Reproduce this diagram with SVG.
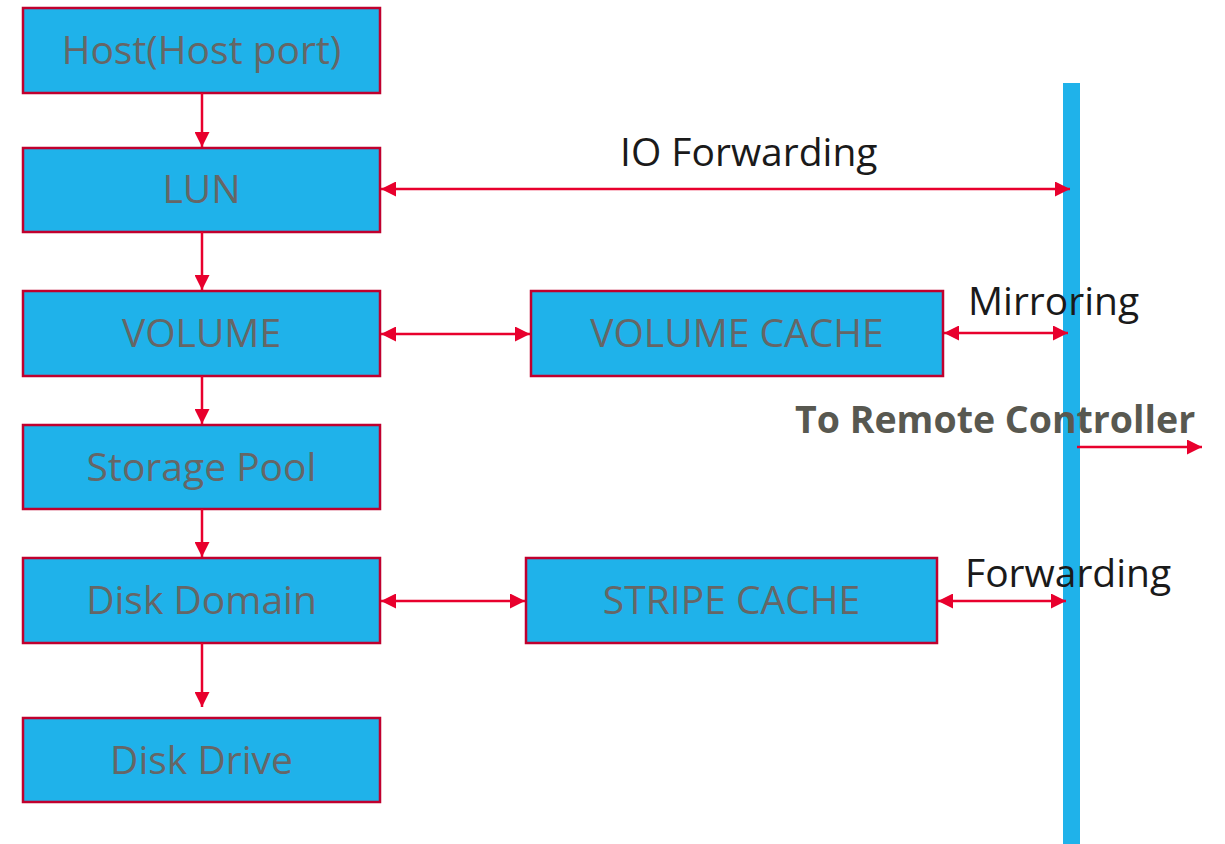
<svg xmlns="http://www.w3.org/2000/svg" width="1225" height="844" viewBox="0 0 1225 844">
<style>
.box{fill:#1FB2EA;stroke:#C0002E;stroke-width:2.5}
.bt{font-family:"Open Sans","Noto Sans",sans-serif;font-size:39px;fill:#666666;text-anchor:middle}
.lbl{font-family:"Open Sans","Noto Sans",sans-serif;font-size:39px;fill:#1a1a1a}
.ln{stroke:#E8002D;stroke-width:2.5;fill:none}
</style>
<defs>
<marker id="ah" viewBox="0 0 10 10" refX="10" refY="5" markerWidth="6" markerHeight="6" orient="auto-start-reverse" markerUnits="strokeWidth">
<path d="M0,0 L10,5 L0,10 Z" fill="#E8002D"/>
</marker>
</defs>
<rect x="1063" y="83" width="17" height="761" fill="#1FB2EA"/>
<g id="host"><rect class="box" x="23" y="8" width="357" height="85"/><text class="bt" x="201.5" y="64">Host(Host port)</text></g>
<g id="lun"><rect class="box" x="23" y="148" width="357" height="84"/><text class="bt" x="201.5" y="203">LUN</text></g>
<g id="volume"><rect class="box" x="23" y="291" width="357" height="85"/><text class="bt" x="201.5" y="347">VOLUME</text></g>
<g id="pool"><rect class="box" x="23" y="425" width="357" height="84"/><text class="bt" x="201.5" y="481">Storage Pool</text></g>
<g id="domain"><rect class="box" x="23" y="558" width="357" height="85"/><text class="bt" x="201.5" y="614">Disk Domain</text></g>
<g id="drive"><rect class="box" x="23" y="718" width="357" height="84"/><text class="bt" x="201.5" y="774">Disk Drive</text></g>
<g id="vcache"><rect class="box" x="531" y="291" width="412" height="85"/><text class="bt" x="737" y="347">VOLUME CACHE</text></g>
<g id="scache"><rect class="box" x="526" y="558" width="411" height="85"/><text class="bt" x="731.5" y="614">STRIPE CACHE</text></g>
<g id="connectors">
<line class="ln" x1="202" y1="93" x2="202" y2="147" marker-end="url(#ah)"/>
<line class="ln" x1="202" y1="232" x2="202" y2="290" marker-end="url(#ah)"/>
<line class="ln" x1="202" y1="376" x2="202" y2="424" marker-end="url(#ah)"/>
<line class="ln" x1="202" y1="509" x2="202" y2="557" marker-end="url(#ah)"/>
<line class="ln" x1="202" y1="643" x2="202" y2="707" marker-end="url(#ah)"/>
<line class="ln" x1="381" y1="189" x2="1070" y2="189" marker-start="url(#ah)" marker-end="url(#ah)"/>
<line class="ln" x1="381" y1="334" x2="530" y2="334" marker-start="url(#ah)" marker-end="url(#ah)"/>
<line class="ln" x1="944" y1="333" x2="1068" y2="333" marker-start="url(#ah)" marker-end="url(#ah)"/>
<line class="ln" x1="381" y1="601" x2="525" y2="601" marker-start="url(#ah)" marker-end="url(#ah)"/>
<line class="ln" x1="938" y1="601" x2="1066" y2="601" marker-start="url(#ah)" marker-end="url(#ah)"/>
<line class="ln" x1="1077" y1="447" x2="1202" y2="447" marker-end="url(#ah)"/>
</g>
<text class="lbl" x="620" y="166">IO Forwarding</text>
<text class="lbl" x="968" y="315">Mirroring</text>
<text class="lbl" x="965" y="587">Forwarding</text>
<text x="795" y="433" font-family="Open Sans,Noto Sans,sans-serif" font-size="37.5" font-weight="bold" fill="#585850">To Remote Controller</text>
</svg>
